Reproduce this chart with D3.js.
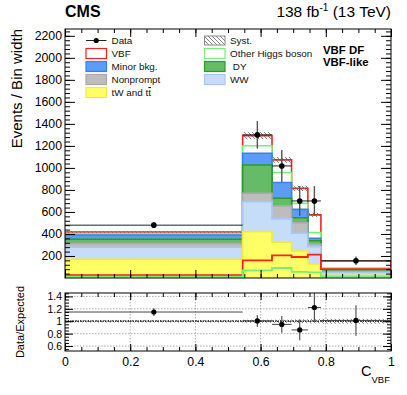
<!DOCTYPE html>
<html>
<head>
<meta charset="utf-8">
<script src="https://cdn.jsdelivr.net/npm/d3@7"></script>
<style>
body { margin: 0; background: #fff; }
svg { display: block; font-family: "Liberation Sans", Arial, sans-serif; }
</style>
</head>
<body>
<svg id="chart" width="407" height="395"></svg>
<script>
// bins in C_VBF
var binEdges = [0, 0.545, 0.635, 0.695, 0.745, 0.785, 1];

// stacked contributions (events / bin width), bottom to top
var ttbar      = [170, 421, 325, 245, 127, 25];
var ww         = [109, 273, 212, 161, 157, 25];
var nonprompt  = [36, 76, 118, 96, 25, 10];
var dy         = [37, 257, 70, 45, 30, 5];
var minorBkg   = [39, 106, 142, 76, 22, 10];
var otherHiggs = [12, 69, 91, 55, 51, 15];
var vbf        = [15, 91, 115, 136, 161, 65];

var dataVals = [480, 1300, 1018, 700, 700, 157];
var dataErr  = [26, 125, 145, 136, 135, 38];
var systRel  = [0.02, 0.025, 0.025, 0.03, 0.035, 0.04];

var yTicks = [200, 400, 600, 800, 1000, 1200, 1400, 1600, 1800, 2000, 2200];
var ratioTicks = [0.6, 0.8, 1, 1.2, 1.4];
var xTicks = [0, 0.2, 0.4, 0.6, 0.8, 1];

var layers = [
  {name: "tW and tt", vals: ttbar, fill: "#ffff66", line: "#f5e93a"},
  {name: "WW", vals: ww, fill: "#c5ddf9", line: "#a6c8f2"},
  {name: "Nonprompt", vals: nonprompt, fill: "#bdbdbd", line: "#a9a9a9"},
  {name: "DY", vals: dy, fill: "#66bb66", line: "#2b9a2b"},
  {name: "Minor bkg.", vals: minorBkg, fill: "#5c9cf5", line: "#3b7fe8"},
  {name: "Other Higgs boson", vals: otherHiggs, fill: "#ffffff", line: "#78f078"},
  {name: "VBF", vals: vbf, fill: "#ffffff", line: "#ff1f1f"}
];

var L = 65, R = 391, T = 29, B = 278, RT = 293, RB = 351;

var svg = d3.select("#chart");
var x = d3.scaleLinear().domain([0, 1]).range([L, R]);
var y = d3.scaleLinear().domain([0, 2262]).range([B, T]);
var yr = d3.scaleLinear().domain([0.52, 1.455]).range([RB, RT]);

var defs = svg.append("defs");
defs.append("clipPath").attr("id", "clipMain")
  .append("rect").attr("x", L).attr("y", T).attr("width", R - L).attr("height", B - T);
defs.append("clipPath").attr("id", "clipRatio")
  .append("rect").attr("x", L).attr("y", RT).attr("width", R - L).attr("height", RB - RT);
var pat = defs.append("pattern").attr("id", "hatch")
  .attr("patternUnits", "userSpaceOnUse").attr("width", 4).attr("height", 4);
pat.append("path").attr("d", "M-1,-1 L5,5 M-1,3 L1,5 M3,-1 L5,1")
  .attr("stroke", "#666").attr("stroke-width", 0.8);

// cumulative stack
var cum = [];
var run = [0, 0, 0, 0, 0, 0];
layers.forEach(function(l) {
  run = run.map(function(v, i) { return v + l.vals[i]; });
  cum.push(run.slice());
});
var total = cum[cum.length - 1];

function stepPoints(vals) {
  var pts = [[binEdges[0], 0]];
  vals.forEach(function(v, i) {
    pts.push([binEdges[i], v]);
    pts.push([binEdges[i + 1], v]);
  });
  pts.push([binEdges[binEdges.length - 1], 0]);
  return pts;
}
var line = d3.line().x(function(d) { return x(d[0]); }).y(function(d) { return y(d[1]); });

var gMain = svg.append("g").attr("clip-path", "url(#clipMain)");

// stack, drawn from top layer down
for (var k = layers.length - 1; k >= 0; k--) {
  gMain.append("path")
    .attr("d", line(stepPoints(cum[k])))
    .attr("fill", layers[k].fill)
    .attr("stroke", layers[k].line)
    .attr("stroke-width", 1.6);
}

// signals superimposed at the bottom
var sigSum = otherHiggs.map(function(v, i) { return v + vbf[i]; });
gMain.append("path").attr("d", line(stepPoints(sigSum)))
  .attr("fill", "none").attr("stroke", "#ff1f1f").attr("stroke-width", 1.8);
gMain.append("path").attr("d", line(stepPoints(otherHiggs)))
  .attr("fill", "none").attr("stroke", "#78f078").attr("stroke-width", 1.8);

// syst band on the stack
gMain.selectAll("rect.syst").data(total).enter().append("rect")
  .attr("class", "syst")
  .attr("x", function(d, i) { return x(binEdges[i]); })
  .attr("width", function(d, i) { return x(binEdges[i + 1]) - x(binEdges[i]); })
  .attr("y", function(d, i) { return y(d * (1 + systRel[i])); })
  .attr("height", function(d, i) { return y(d * (1 - systRel[i])) - y(d * (1 + systRel[i])); })
  .attr("fill", "url(#hatch)");

// data
var centers = dataVals.map(function(d, i) { return (binEdges[i] + binEdges[i + 1]) / 2; });
var gData = gMain.append("g");
dataVals.forEach(function(d, i) {
  gData.append("line")
    .attr("x1", x(binEdges[i])).attr("x2", x(binEdges[i + 1]))
    .attr("y1", y(d)).attr("y2", y(d))
    .attr("stroke", "#222").attr("stroke-width", 1);
  gData.append("line")
    .attr("x1", x(centers[i])).attr("x2", x(centers[i]))
    .attr("y1", y(d - dataErr[i])).attr("y2", y(d + dataErr[i]))
    .attr("stroke", "#555").attr("stroke-width", 1.4);
  gData.append("circle")
    .attr("cx", x(centers[i])).attr("cy", y(d)).attr("r", 2.8).attr("fill", "#000");
});

// ratio panel
var gRatio = svg.append("g").attr("clip-path", "url(#clipRatio)");
ratioTicks.filter(function(t) { return t !== 1; }).forEach(function(t) {
  gRatio.append("line").attr("x1", L).attr("x2", R).attr("y1", yr(t)).attr("y2", yr(t))
    .attr("stroke", "#999").attr("stroke-width", 0.8).attr("stroke-dasharray", "1.5,1.5");
});
xTicks.slice(1, -1).forEach(function(t) {
  gRatio.append("line").attr("x1", x(t)).attr("x2", x(t)).attr("y1", RT).attr("y2", RB)
    .attr("stroke", "#999").attr("stroke-width", 0.8).attr("stroke-dasharray", "1.5,1.5");
});
gRatio.selectAll("rect.rsyst").data(systRel).enter().append("rect")
  .attr("x", function(d, i) { return x(binEdges[i]); })
  .attr("width", function(d, i) { return x(binEdges[i + 1]) - x(binEdges[i]); })
  .attr("y", function(d) { return yr(1 + d); })
  .attr("height", function(d) { return yr(1 - d) - yr(1 + d); })
  .attr("fill", "url(#hatch)");
gRatio.append("line").attr("x1", L).attr("x2", R).attr("y1", yr(1)).attr("y2", yr(1))
  .attr("stroke", "#000").attr("stroke-width", 1.2).attr("stroke-dasharray", "1.5,1");
dataVals.forEach(function(d, i) {
  var r = d / total[i], e = dataErr[i] / total[i];
  gRatio.append("line")
    .attr("x1", x(binEdges[i])).attr("x2", x(binEdges[i + 1]))
    .attr("y1", yr(r)).attr("y2", yr(r))
    .attr("stroke", "#444").attr("stroke-width", 1);
  gRatio.append("line")
    .attr("x1", x(centers[i])).attr("x2", x(centers[i]))
    .attr("y1", yr(r - e)).attr("y2", yr(r + e))
    .attr("stroke", "#555").attr("stroke-width", 1.2);
  gRatio.append("circle")
    .attr("cx", x(centers[i])).attr("cy", yr(r)).attr("r", 2.6).attr("fill", "#000");
});

// axes
function stripAxis(g, fs) {
  g.select(".domain").remove();
  g.selectAll(".tick line").attr("stroke", "#000").attr("stroke-width", 1);
  g.selectAll(".tick text").attr("fill", "#000").attr("font-size", fs)
    .attr("font-family", "Liberation Sans, Arial, sans-serif");
}
function rangeStep(a, b, s) {
  var out = [];
  for (var v = a; v <= b + 1e-9; v += s) out.push(+v.toFixed(4));
  return out;
}
var yMinor = rangeStep(40, 2240, 40);
var xMinor = rangeStep(0.05, 0.95, 0.05);
var rMinor = rangeStep(0.55, 1.45, 0.05);

// main y
stripAxis(svg.append("g").attr("transform", "translate(" + L + ",0)")
  .call(d3.axisLeft(y).tickValues(yTicks).tickSize(-10).tickPadding(3).tickFormat(d3.format("d"))), "12.3px");
stripAxis(svg.append("g").attr("transform", "translate(" + L + ",0)")
  .call(d3.axisLeft(y).tickValues(yMinor).tickSize(-5).tickFormat("")));
stripAxis(svg.append("g").attr("transform", "translate(" + R + ",0)")
  .call(d3.axisRight(y).tickValues(yTicks).tickSize(-10).tickFormat("")));
stripAxis(svg.append("g").attr("transform", "translate(" + R + ",0)")
  .call(d3.axisRight(y).tickValues(yMinor).tickSize(-5).tickFormat("")));
// main x
[[B, d3.axisBottom], [T, d3.axisTop]].forEach(function(p) {
  stripAxis(svg.append("g").attr("transform", "translate(0," + p[0] + ")")
    .call(p[1](x).tickValues(xTicks).tickSize(-8).tickFormat("")));
  stripAxis(svg.append("g").attr("transform", "translate(0," + p[0] + ")")
    .call(p[1](x).tickValues(xMinor).tickSize(-4).tickFormat("")));
});
// ratio y
stripAxis(svg.append("g").attr("transform", "translate(" + L + ",0)")
  .call(d3.axisLeft(yr).tickValues(ratioTicks).tickSize(-8).tickPadding(3)
    .tickFormat(function(d) { return d === 1 ? "1" : d.toFixed(1); })), "10.5px");
stripAxis(svg.append("g").attr("transform", "translate(" + L + ",0)")
  .call(d3.axisLeft(yr).tickValues(rMinor).tickSize(-4).tickFormat("")));
stripAxis(svg.append("g").attr("transform", "translate(" + R + ",0)")
  .call(d3.axisRight(yr).tickValues(ratioTicks).tickSize(-8).tickFormat("")));
stripAxis(svg.append("g").attr("transform", "translate(" + R + ",0)")
  .call(d3.axisRight(yr).tickValues(rMinor).tickSize(-4).tickFormat("")));
// ratio x
stripAxis(svg.append("g").attr("transform", "translate(0," + RB + ")")
  .call(d3.axisBottom(x).tickValues(xTicks).tickSize(-7).tickPadding(6)
    .tickFormat(function(d) { return d === 0 || d === 1 ? d3.format("d")(d) : d.toFixed(1); })), "12.3px");
stripAxis(svg.append("g").attr("transform", "translate(0," + RB + ")")
  .call(d3.axisBottom(x).tickValues(xMinor).tickSize(-4).tickFormat("")));
stripAxis(svg.append("g").attr("transform", "translate(0," + RT + ")")
  .call(d3.axisTop(x).tickValues(xTicks).tickSize(-7).tickFormat("")));
stripAxis(svg.append("g").attr("transform", "translate(0," + RT + ")")
  .call(d3.axisTop(x).tickValues(xMinor).tickSize(-4).tickFormat("")));

// frames
[[T, B], [RT, RB]].forEach(function(f) {
  svg.append("rect").attr("x", L).attr("y", f[0]).attr("width", R - L).attr("height", f[1] - f[0])
    .attr("fill", "none").attr("stroke", "#000").attr("stroke-width", 1);
});

// titles
svg.append("text").attr("x", L).attr("y", 17).attr("font-size", "16px").attr("font-weight", "bold").text("CMS");
var lumi = svg.append("text").attr("x", R).attr("y", 17).attr("font-size", "15.5px").attr("text-anchor", "end");
lumi.append("tspan").text("138 fb");
lumi.append("tspan").attr("font-size", "10px").attr("dy", -6).text("-1");
lumi.append("tspan").attr("dy", 6).text(" (13 TeV)");

svg.append("text").attr("transform", "translate(21.5," + T + ") rotate(-90)")
  .attr("text-anchor", "end").attr("font-size", "15px").text("Events / Bin width");
svg.append("text").attr("transform", "translate(23.5," + ((RT + RB) / 2) + ") rotate(-90)")
  .attr("text-anchor", "middle").attr("font-size", "11px").text("Data/Expected");
var xl = svg.append("text").attr("x", R - 1).attr("y", 376).attr("text-anchor", "end").attr("font-size", "14.5px");
xl.append("tspan").text("C");
xl.append("tspan").attr("font-size", "9.5px").attr("dy", 7).text("VBF");

svg.append("text").attr("x", 323).attr("y", 53.5).attr("font-size", "11.4px").attr("font-weight", "bold").text("VBF DF");
svg.append("text").attr("x", 323).attr("y", 65.5).attr("font-size", "11.4px").attr("font-weight", "bold").text("VBF-like");

// legend
var legLeft = [
  {name: "Data", type: "data"},
  {name: "VBF", layer: 6},
  {name: "Minor bkg.", layer: 4},
  {name: "Nonprompt", layer: 2},
  {name: "tW and tt", layer: 0}
];
var legRight = [
  {name: "Syst.", type: "syst"},
  {name: "Other Higgs boson", layer: 5},
  {name: " DY", layer: 3},
  {name: "WW", layer: 1}
];
function drawLegend(items, x0) {
  items.forEach(function(it, i) {
    var cy = 40.5 + i * 13;
    if (it.type === "data") {
      svg.append("line").attr("x1", x0).attr("x2", x0 + 20.5).attr("y1", cy).attr("y2", cy)
        .attr("stroke", "#222").attr("stroke-width", 1);
      svg.append("circle").attr("cx", x0 + 10.25).attr("cy", cy).attr("r", 2.6).attr("fill", "#000");
    } else if (it.type === "syst") {
      svg.append("rect").attr("x", x0).attr("y", cy - 4.5).attr("width", 20.5).attr("height", 9)
        .attr("fill", "url(#hatch)").attr("stroke", "#888").attr("stroke-width", 1);
    } else {
      var l = layers[it.layer];
      svg.append("rect").attr("x", x0).attr("y", cy - 5).attr("width", 20.5).attr("height", 10)
        .attr("fill", l.fill).attr("stroke", l.line).attr("stroke-width", 1.2);
    }
    var t = svg.append("text").attr("x", x0 + 25.5).attr("y", cy + 3.6).attr("font-size", "9.9px")
      .attr("fill", "#111").attr("xml:space", "preserve");
    if (it.name === "tW and tt") {
      t.append("tspan").text("tW and t");
      t.append("tspan").attr("text-decoration", "overline").text("t");
    } else {
      t.text(it.name);
    }
  });
}
drawLegend(legLeft, 86);
drawLegend(legRight, 204.5);
</script>
</body>
</html>
